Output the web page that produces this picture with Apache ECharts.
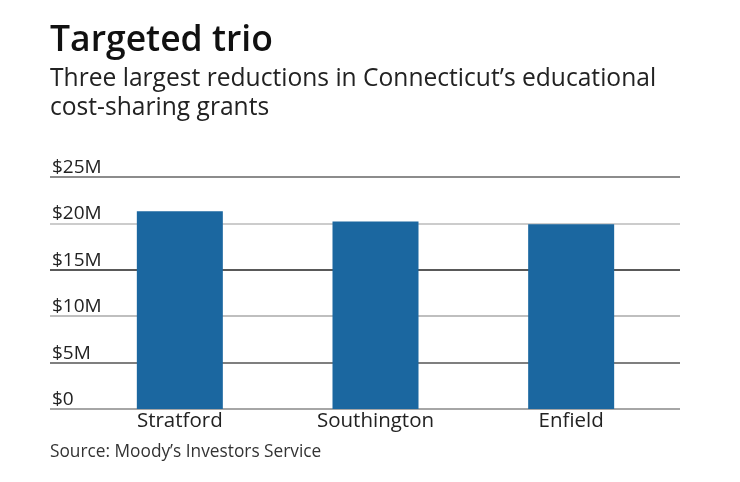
<!DOCTYPE html>
<html><head><meta charset="utf-8">
<script src="https://cdn.jsdelivr.net/npm/echarts@6/dist/echarts.min.js"></script>
<style>html,body{margin:0;padding:0;background:#fff}#c{width:740px;height:482px}</style>
</head><body><div id="c"></div>
<script>
var categories = ["Stratford", "Southington", "Enfield"];
var values = [21.3, 20.2, 19.9];
var yTicks = [0, 5, 10, 15, 20, 25];
var titleText = "Targeted trio";
var subtitleText = "Three largest reductions in Connecticut\u2019s educational\ncost-sharing grants";
var sourceText = "Source: Moody\u2019s Investors Service";

var font = "Open Sans";
var chart = echarts.init(document.getElementById('c'));
chart.setOption({
  animation: false,
  title: [
    {text: titleText, left: 45, top: 18, textStyle: {fontFamily: font, fontSize: 35.5, fontWeight: 600, color: '#111'}},
    {text: subtitleText, left: 45, top: 59, textStyle: {fontFamily: font, fontSize: 24.6, fontWeight: 'normal', color: '#222', lineHeight: 29}},
    {text: sourceText, left: 45, top: 439, textStyle: {fontFamily: font, fontSize: 17.3, fontWeight: 'normal', color: '#333'}}
  ],
  grid: [
    {left: 50, right: 60, top: 177, bottom: 73},
    {left: 82, right: 71, top: 177, bottom: 73}
  ],
  xAxis: [
    {gridIndex: 0, type: 'category', data: categories, show: false},
    {gridIndex: 1, type: 'category', data: categories,
     axisLine: {show: false}, axisTick: {show: false},
     axisLabel: {margin: 2, fontFamily: font, fontSize: 20.5, color: '#222'}}
  ],
  yAxis: [
    {gridIndex: 0, type: 'value', min: yTicks[0], max: yTicks[yTicks.length-1], interval: 5,
     axisLine: {show: false}, axisTick: {show: false},
     axisLabel: {inside: true, margin: 2, verticalAlign: 'bottom', padding: [0,0,0,0], fontFamily: font, fontSize: 19, color: '#222',
       formatter: function(v){ return '$' + v + (v === 0 ? '' : 'M'); }},
     splitLine: {lineStyle: {width: 1.5, color: ['#888', '#555', '#aaa', '#222', '#bbb', '#666']}}},
    {gridIndex: 1, type: 'value', min: yTicks[0], max: yTicks[yTicks.length-1], interval: 5, show: false, splitLine: {show: false}}
  ],
  series: [{
    type: 'bar', xAxisIndex: 1, yAxisIndex: 1, data: values, barWidth: 86,
    itemStyle: {color: '#1b67a0'}
  }]
});
</script></body></html>
